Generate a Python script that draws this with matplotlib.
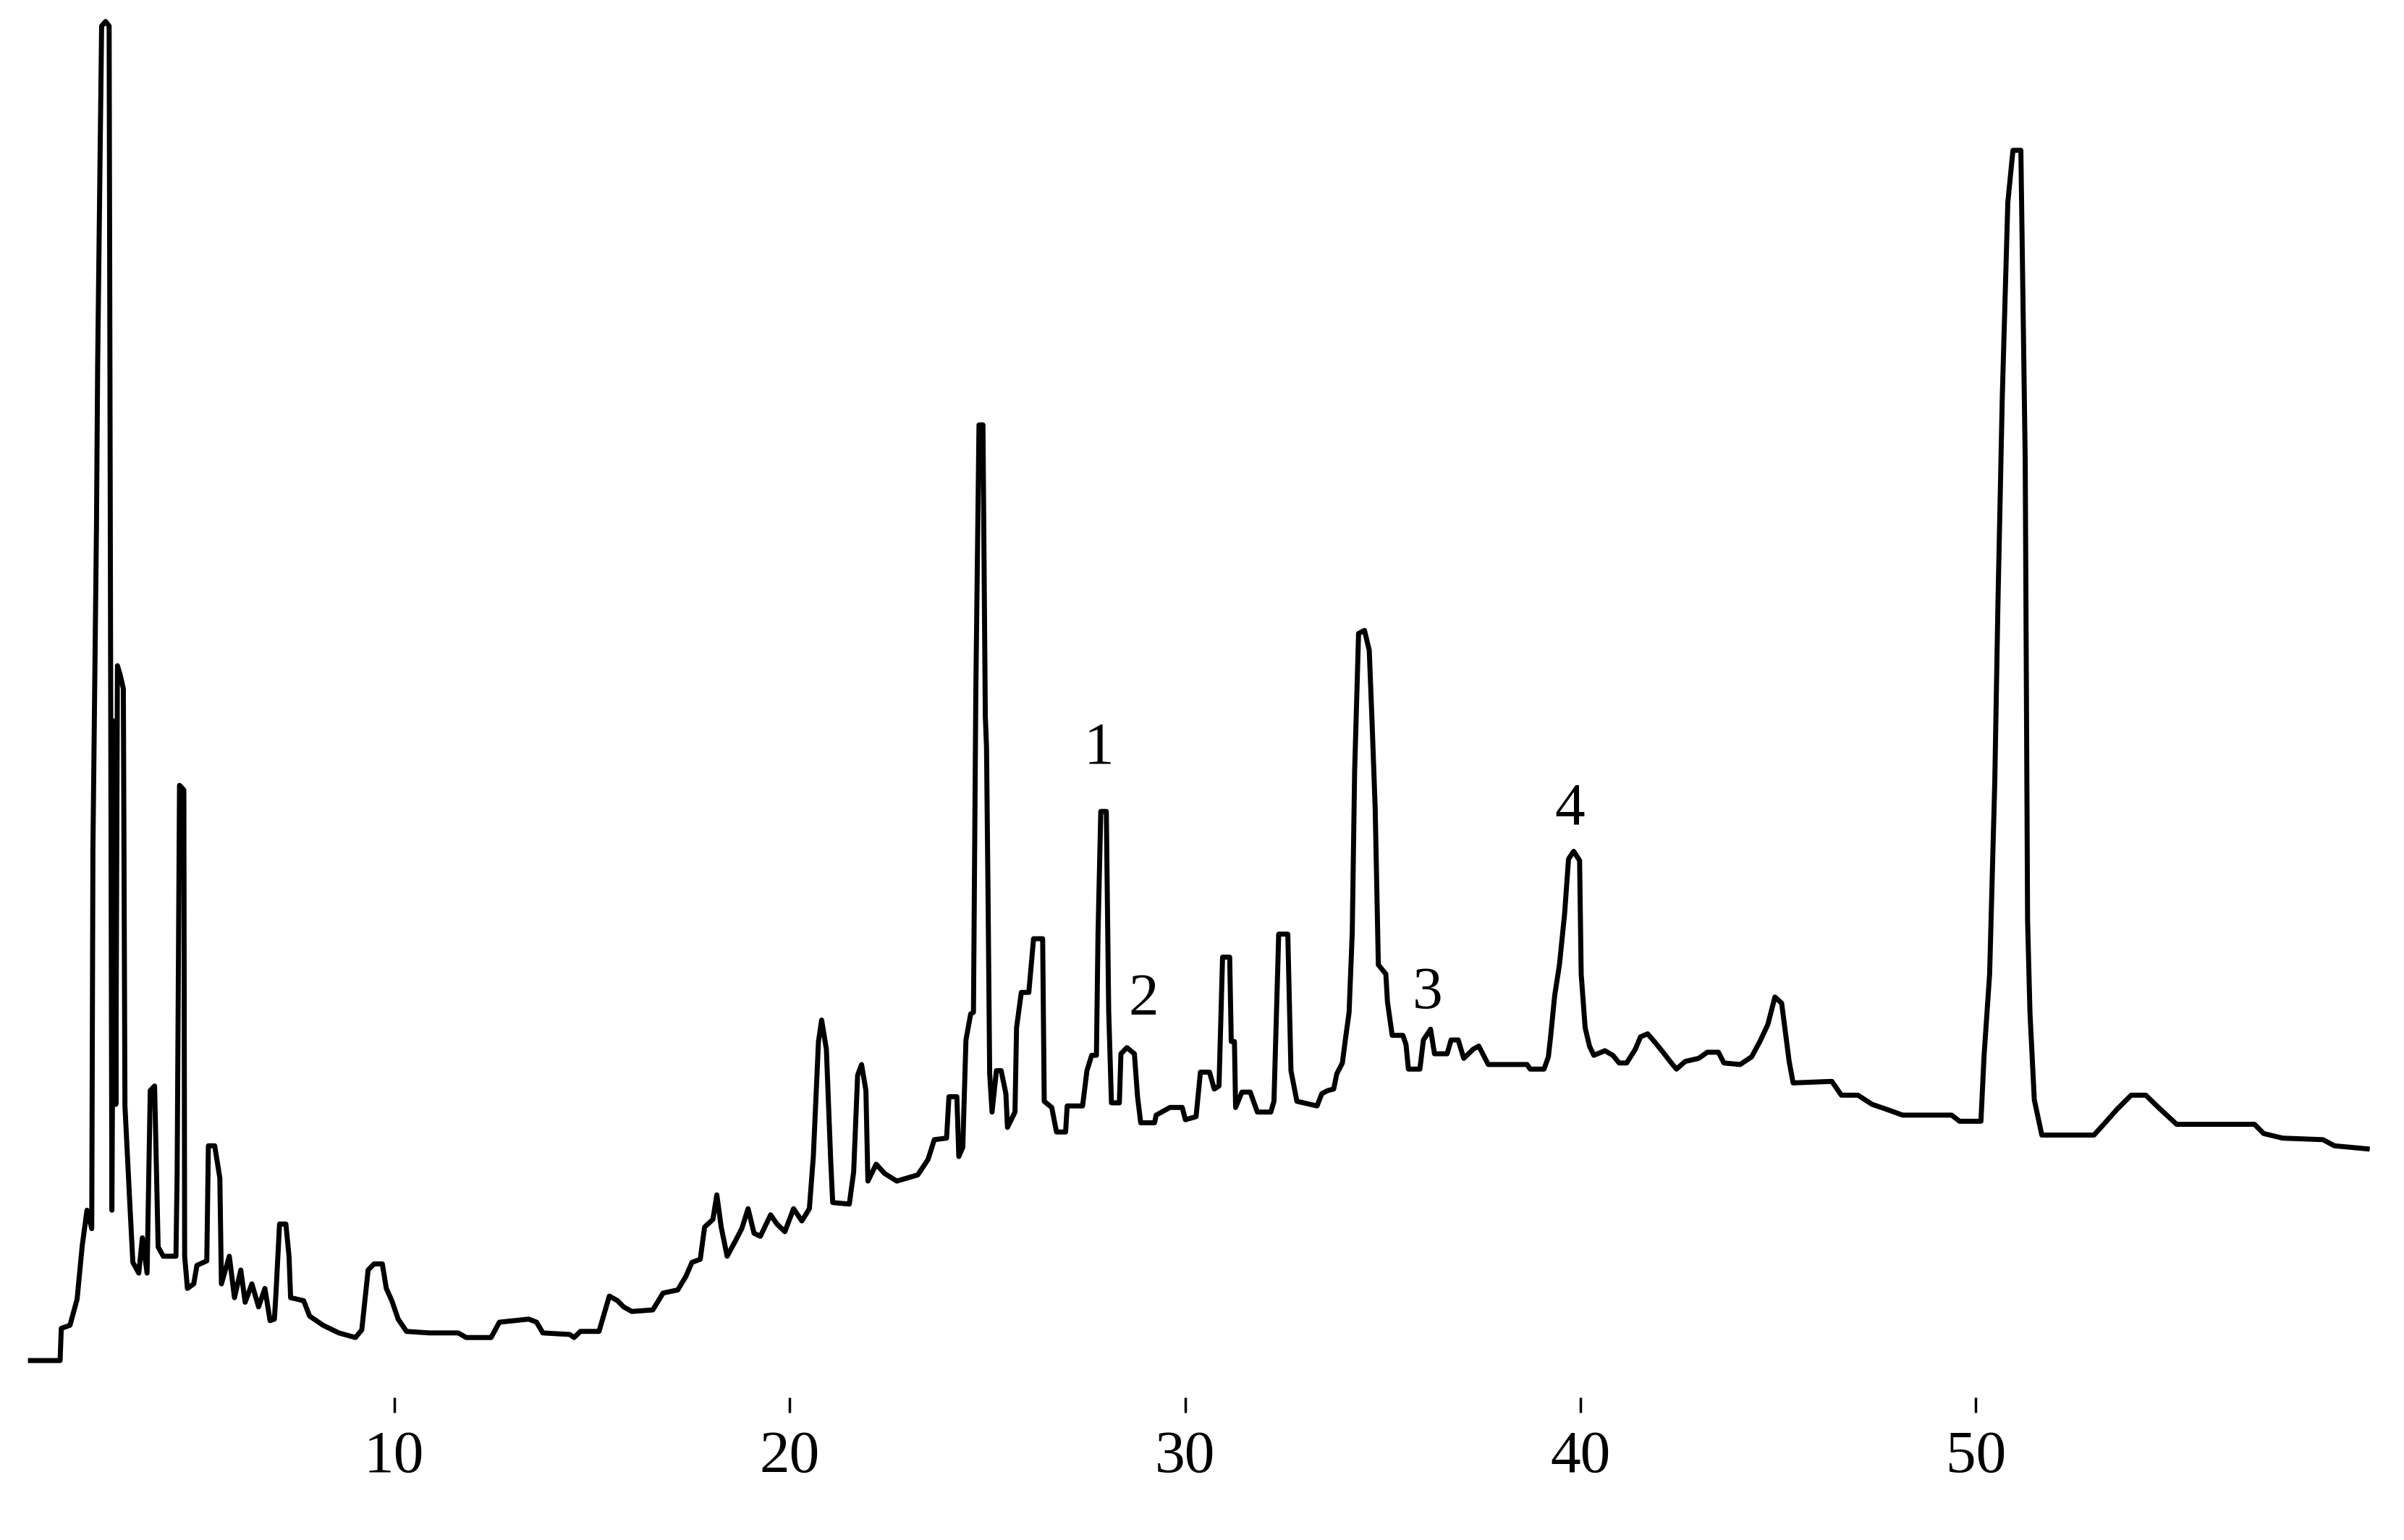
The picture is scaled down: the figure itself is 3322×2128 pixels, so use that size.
import matplotlib.pyplot as plt

plt.rcParams["font.family"] = ["Liberation Serif", "DejaVu Serif"]

# retention time (min)
time_min = [
    0.80, 1.55, 1.58, 1.80, 1.98, 2.11, 2.23, 2.35, 2.38, 2.47, 2.50, 2.60, 2.70, 2.79,
    2.86, 2.92, 2.96, 3.00, 3.07, 3.15, 3.19, 3.31, 3.39, 3.54, 3.63, 3.75, 3.83, 3.94,
    4.03, 4.16, 4.48, 4.51, 4.57, 4.68, 4.70, 4.77, 4.93, 5.01, 5.26, 5.30, 5.46, 5.59,
    5.63, 5.83, 5.96, 6.12, 6.23, 6.40, 6.57, 6.73, 6.86, 6.97, 7.01, 7.10, 7.26, 7.34,
    7.38, 7.71, 7.86, 8.20, 8.60, 9.02, 9.18, 9.34, 9.49, 9.70, 9.80, 9.94, 10.10, 10.31,
    10.89, 11.62, 11.82, 12.45, 12.66, 13.40, 13.60, 13.76, 14.44, 14.55, 14.71, 15.18,
    15.44, 15.65, 15.80, 16.01, 16.54, 16.80, 17.17, 17.38, 17.53, 17.74, 17.85, 18.06,
    18.16, 18.27, 18.42, 18.63, 18.79, 18.95, 19.10, 19.26, 19.52, 19.68, 19.88, 20.10,
    20.31, 20.50, 20.60, 20.73, 20.81, 20.93, 21.04, 21.09, 21.51, 21.62, 21.72, 21.82,
    21.93, 21.98, 22.19, 22.40, 22.71, 23.24, 23.50, 23.66, 23.97, 24.03, 24.23, 24.28,
    24.38, 24.46, 24.58, 24.65, 24.71, 24.79, 24.89, 24.95, 24.98, 25.02, 25.06, 25.12,
    25.23, 25.35, 25.47, 25.51, 25.70, 25.74, 25.86, 26.05, 26.17, 26.40, 26.44, 26.63,
    26.75, 26.98, 27.02, 27.41, 27.52, 27.64, 27.76, 27.80, 27.87, 28.01, 28.07, 28.14,
    28.34, 28.38, 28.53, 28.72, 28.80, 28.88, 29.23, 29.27, 29.62, 29.93, 30.01, 30.28,
    30.39, 30.62, 30.74, 30.86, 30.95, 31.13, 31.17, 31.25, 31.28, 31.44, 31.65, 31.83,
    32.17, 32.25, 32.37, 32.60, 32.68, 32.83, 33.34, 33.46, 33.61, 33.76, 33.84, 33.98,
    34.06, 34.15, 34.23, 34.29, 34.39, 34.54, 34.66, 34.73, 34.81, 34.89, 35.08, 35.12,
    35.24, 35.51, 35.59, 35.65, 35.94, 36.03, 36.21, 36.31, 36.63, 36.73, 36.91, 37.05,
    37.29, 37.43, 37.67, 38.65, 38.73, 39.08, 39.19, 39.25, 39.35, 39.47, 39.60, 39.70,
    39.83, 39.98, 40.02, 40.12, 40.23, 40.34, 40.62, 40.82, 40.98, 41.17, 41.39, 41.52,
    41.70, 41.87, 42.09, 42.30, 42.43, 42.65, 42.99, 43.21, 43.49, 43.63, 44.04, 44.33,
    44.54, 44.74, 44.92, 45.09, 45.16, 45.28, 45.38, 46.36, 46.60, 47.02, 47.38, 47.72,
    48.15, 49.39, 49.59, 50.13, 50.21, 50.35, 50.48, 50.56, 50.67, 50.81, 50.94, 51.14,
    51.25, 51.31, 51.37, 51.48, 51.67, 52.99, 53.27, 53.58, 53.93, 54.30, 54.66, 55.08,
    57.05, 57.28, 57.76, 58.78, 59.07, 59.90,
]

# detector response (a.u.)
signal = [
    0, 0, 21, 23, 40, 75, 98, 86, 333, 544, 650, 870, 873, 870,
    98, 417, 167, 453, 447, 438, 166, 104, 64, 57, 80, 57, 176, 179,
    74, 68, 68, 122, 375, 372, 68, 47, 50, 62, 65, 140, 140, 119,
    50, 68, 41, 59, 38, 50, 35, 47, 26, 27, 44, 89, 89, 68,
    41, 39, 29, 23, 18, 15, 20, 59, 63, 63, 47, 39, 27, 19,
    18, 18, 15, 15, 25, 27, 25, 18, 17, 15, 19, 19,
    42, 39, 35, 32, 33, 44, 46, 55, 64, 66, 87, 92,
    108, 87, 68, 78, 86, 99, 83, 81, 95, 89, 84, 99,
    91, 99, 133, 208, 222, 203, 130, 103, 102, 123, 186, 193,
    176, 117, 128, 122, 117, 121, 131, 144, 145, 172, 172, 133,
    139, 209, 226, 227, 437, 610, 610, 420, 400, 300, 187, 162,
    189, 189, 174, 152, 162, 217, 240, 240, 275, 275, 169, 165,
    149, 149, 166, 166, 189, 199, 199, 278, 358, 358, 228, 168,
    168, 200, 204, 200, 172, 155, 155, 160, 165, 165, 157, 159,
    188, 188, 177, 179, 263, 263, 208, 208, 165, 175, 175, 162,
    162, 169, 278, 278, 189, 169, 166, 174, 176, 177, 187, 194,
    210, 227, 279, 384, 474, 476, 463, 417, 360, 258, 252, 234,
    212, 212, 206, 190, 190, 209, 216, 200, 200, 209, 209, 197,
    203, 205, 193, 193, 190, 190, 198, 212, 238, 258, 291, 327,
    332, 326, 252, 217, 205, 199, 202, 199, 194, 194, 203, 211,
    213, 208, 201, 194, 190, 195, 197, 201, 201, 194, 193, 198,
    208, 219, 237, 233, 219, 195, 181, 182, 173, 173, 167, 164,
    160, 160, 156, 156, 199, 252, 377, 493, 628, 755, 789, 789,
    587, 287, 227, 170, 147, 147, 155, 164, 173, 173, 164, 154,
    154, 148, 145, 144, 140, 138,
]

peak_names = ["1", "2", "3", "4"]
peak_time = [27.83, 28.96, 36.13, 39.74]
peak_signal = [399, 235, 239, 359]

tick_minutes = [10, 20, 30, 40, 50]

fig = plt.figure(figsize=(33.22, 21.28), dpi=100)
ax = fig.add_axes([0, 0, 1, 1])

ax.plot(time_min, signal, color="black", linewidth=5.0)

for name, t, s in zip(peak_names, peak_time, peak_signal):
    ax.text(t, s, name, ha="center", va="center", fontsize=60, color="black")

ax.set_xlim(0.03, 60.83)
ax.set_ylim(-117, 887)

# no frame, only short tick marks under the trace
for side in ["top", "right", "left", "bottom"]:
    ax.spines[side].set_visible(False)
ax.spines["bottom"].set_position(("data", -24))
ax.set_yticks([])
ax.set_xticks(tick_minutes)
ax.tick_params(axis="x", direction="out", length=15, width=2.5, pad=18, labelsize=60)

fig.savefig("out.png", dpi=100)
